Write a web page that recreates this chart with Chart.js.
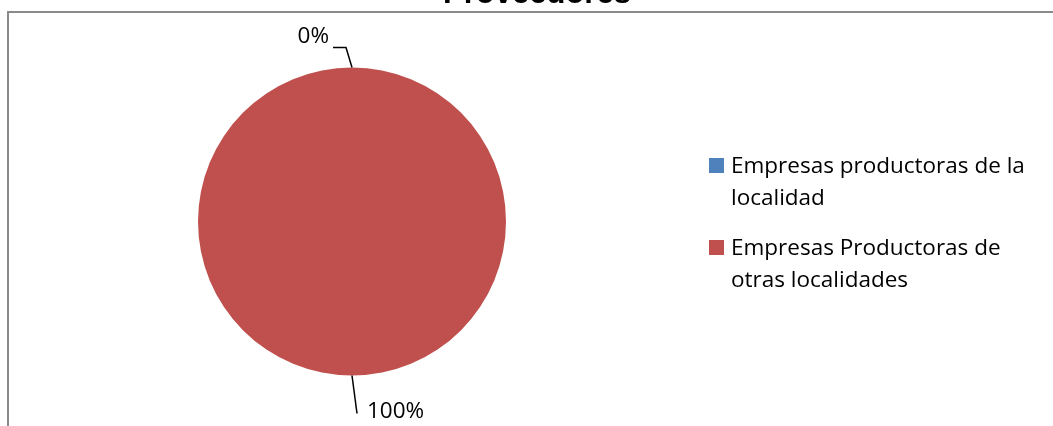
<!DOCTYPE html>
<html>
<head>
<meta charset="utf-8">
<script src="https://cdn.jsdelivr.net/npm/chart.js@4.4.1/dist/chart.umd.min.js"></script>
<style>
  html, body { margin: 0; padding: 0; background: #fff; }
  #wrap { width: 1053px; height: 426px; }
</style>
</head>
<body>
<div id="wrap"><canvas id="proveedoresChart" width="1053" height="426"></canvas></div>
<script>
const titulo = 'Proveedores';
const categorias = [
    ['Empresas productoras de la', 'localidad'],
    ['Empresas Productoras de', 'otras localidades']
];
const valores = [0, 100];
const colores = ['#4F81BD', '#C0504D'];

const FONT = "'Open Sans', 'Noto Sans', sans-serif";

// marco, titulo, etiquetas con linea guia y leyenda
const decoraciones = {
    id: 'decoraciones',
    beforeDraw(chart) {
        const ctx = chart.ctx;
        ctx.save();
        ctx.strokeStyle = '#8a8a8a';
        ctx.lineWidth = 2;
        ctx.beginPath();
        ctx.moveTo(8, 426);
        ctx.lineTo(8, 12);
        ctx.lineTo(1053, 12);
        ctx.stroke();
        ctx.restore();
    },
    afterDraw(chart) {
        const ctx = chart.ctx;
        const data = chart.data.datasets[0].data;
        const total = data.reduce((a, b) => a + b, 0);
        const arcs = chart.getDatasetMeta(0).data;

        ctx.save();
        ctx.fillStyle = '#000';
        ctx.textAlign = 'center';
        ctx.textBaseline = 'alphabetic';
        ctx.font = "bold 31px 'Liberation Sans', Arial, sans-serif";
        ctx.fillText(titulo, 537, 3);

        // etiquetas de porcentaje
        ctx.font = '22.5px ' + FONT;
        ctx.strokeStyle = '#000';
        ctx.lineWidth = 1.5;
        arcs.forEach((arc, i) => {
            const p = arc.getProps(['x', 'y', 'startAngle', 'endAngle', 'outerRadius']);
            const mid = (p.startAngle + p.endAngle) / 2;
            const ax = p.x + Math.cos(mid) * p.outerRadius;
            const ay = p.y + Math.sin(mid) * p.outerRadius;
            const txt = Math.round(data[i] / total * 100) + '%';
            ctx.beginPath();
            if (Math.sin(mid) < 0) {
                ctx.moveTo(ax, ay);
                ctx.lineTo(ax - 6, ay - 20);
                ctx.lineTo(ax - 19, ay - 20);
                ctx.stroke();
                ctx.textAlign = 'right';
                ctx.fillText(txt, ax - 23, ay - 25);
            } else {
                ctx.moveTo(ax, ay);
                ctx.lineTo(ax + 5, ay + 38);
                ctx.stroke();
                ctx.textAlign = 'left';
                ctx.fillText(txt, ax + 15, ay + 42);
            }
        });

        // leyenda
        ctx.textAlign = 'left';
        let y = 173;
        chart.data.labels.forEach((lab, i) => {
            ctx.fillStyle = colores[i];
            ctx.fillRect(709, y - 15, 15, 15);
            ctx.fillStyle = '#000';
            lab.forEach((linea, j) => {
                ctx.fillText(linea, 731, y + j * 32);
            });
            y += lab.length * 32 + 18;
        });
        ctx.restore();
    }
};

new Chart(document.getElementById('proveedoresChart'), {
    type: 'pie',
    data: {
        labels: categorias,
        datasets: [{
            data: valores,
            backgroundColor: colores,
            borderWidth: 0
        }]
    },
    options: {
        responsive: false,
        animation: false,
        layout: { padding: { left: 198, right: 547, top: 67, bottom: 50 } },
        plugins: {
            legend: { display: false },
            tooltip: { enabled: false }
        }
    },
    plugins: [decoraciones]
});
</script>
</body>
</html>
